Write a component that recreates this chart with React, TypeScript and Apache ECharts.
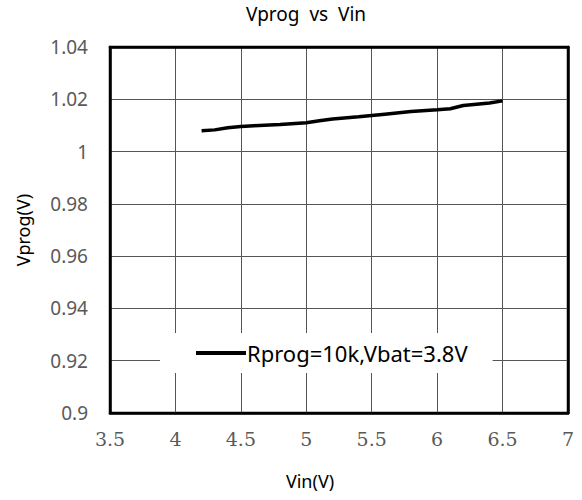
import React, { useEffect, useRef } from "react";
import * as echarts from "echarts";

const vin = [4.2, 4.3, 4.4, 4.5, 4.6, 4.8, 5.0, 5.1, 5.2, 5.4, 5.6, 5.8, 6.0, 6.1, 6.2, 6.4, 6.5];
const vprog = [1.008, 1.0083, 1.0091, 1.0096, 1.0099, 1.0104, 1.011, 1.0118, 1.0125, 1.0133, 1.0143, 1.0153, 1.016, 1.0164, 1.0176, 1.0186, 1.0194];
const seriesName = "Rprog=10k,Vbat=3.8V";
const titleText = "Vprog  vs  Vin";
const xName = "Vin(V)";
const yName = "Vprog(V)";
const xMin = 3.5, xMax = 7, xStep = 0.5;
const yMin = 0.9, yMax = 1.04, yStep = 0.02;

const frameLine = { show: true, onZero: false, lineStyle: { color: "#000", width: 2.5 } };
const grid = { show: true, lineStyle: { color: "#555", width: 1 }, showMinLine: false, showMaxLine: false };

export default function App() {
  const ref = useRef<HTMLDivElement>(null);
  useEffect(() => {
    const chart = echarts.init(ref.current!, null, { renderer: "svg" });
    chart.setOption({
      animation: false,
      backgroundColor: "#fff",
      grid: { left: 110, right: 14, top: 47, bottom: 87, show: true, borderColor: "#000", borderWidth: 2.5 },
      graphic: [
        { type: "text", x: 306, y: 4, style: { text: titleText, fill: "#000", font: "19px 'Noto Sans', sans-serif", textAlign: "center" } },
        { type: "text", x: 310, y: 472, style: { text: xName, fill: "#000", font: "18px 'Noto Sans', sans-serif", textAlign: "center" } },
      ],
      legend: {
        left: 160,
        top: 333,
        padding: [9, 25, 9, 36],
        backgroundColor: "#fff",
        itemWidth: 50,
        itemHeight: 4,
        textStyle: { color: "#000", fontSize: 22, fontFamily: "'Noto Sans', sans-serif", padding: [0, 0, 0, -4], lineHeight: 22 },
        data: [{ name: seriesName, icon: "rect", itemStyle: { color: "#000" } }],
      },
      xAxis: [
        {
          type: "value",
          min: xMin,
          max: xMax,
          interval: xStep,
          axisLine: frameLine,
          axisTick: { show: false },
          splitLine: grid,
          axisLabel: { color: "#595959", fontSize: 19, fontFamily: "'DejaVu Serif', serif", margin: 16 },
        },
        {
          type: "value",
          position: "top",
          min: xMin,
          max: xMax,
          interval: xStep,
          axisLine: frameLine,
          axisTick: { show: false },
          axisLabel: { show: false },
          splitLine: { show: false },
        },
      ],
      yAxis: [
        {
          type: "value",
          min: yMin,
          max: yMax,
          interval: yStep,
          name: yName,
          nameLocation: "middle",
          nameGap: 78,
          nameTextStyle: { color: "#000", fontSize: 18, fontFamily: "'Noto Sans', sans-serif" },
          axisLine: frameLine,
          axisTick: { show: false },
          splitLine: grid,
          axisLabel: {
            color: "#595959",
            fontSize: 19,
            fontFamily: "'Noto Sans', sans-serif",
            margin: 22,
            formatter: (v: number) => String(+v.toFixed(2)),
          },
        },
        {
          type: "value",
          position: "right",
          min: yMin,
          max: yMax,
          interval: yStep,
          axisLine: frameLine,
          axisTick: { show: false },
          axisLabel: { show: false },
          splitLine: { show: false },
        },
      ],
      series: [
        {
          name: seriesName,
          type: "line",
          data: vin.map((x, i) => [x, vprog[i]]),
          symbol: "none",
          lineStyle: { color: "#000", width: 3.5 },
          itemStyle: { color: "#000" },
        },
      ],
    });
    return () => chart.dispose();
  }, []);
  return <div ref={ref} style={{ width: 582, height: 500, position: "absolute", left: 0, top: 0 }} />;
}
